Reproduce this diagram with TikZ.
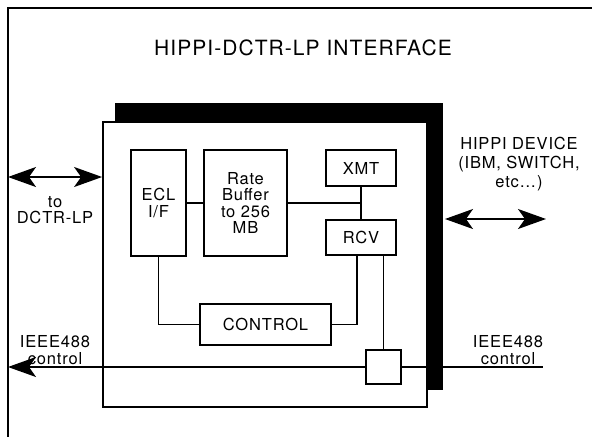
\documentclass[tikz,border=0pt]{standalone}
\usepackage{fontspec}
\setmainfont[LetterSpace=5]{TeX Gyre Heros}
\usetikzlibrary{arrows.meta}
\newcommand{\etich}{\fontsize{16.5}{16.5}\selectfont}

\begin{document}
\begin{tikzpicture}[x=1pt, y=-1pt, >={Stealth[length=28pt, width=20pt, inset=7pt]},
        blocco/.style={draw, line width=1.8pt, fill=white, align=center, inner sep=0pt, font=\etich},
        filo/.style={line width=1.5pt}]
        \useasboundingbox (0,0) rectangle (592,437);

        % Cornice esterna
        \draw[filo] (592,8) -- (8,8) -- (8,437);

        % Titolo
        \node[font=\fontsize{21}{24}\selectfont] (titolo) at (303,48) {HIPPI-DCTR-LP INTERFACE};

        % Ombra della scheda
        \fill (115,103) rectangle (443,390);

        % Scheda
        \node[blocco, minimum width=324pt, minimum height=285pt] (scheda) at (265,264.5) {};

        % Blocchi interni
        \node[blocco, minimum width=55pt, minimum height=106pt] (ecl) at (158.5,203) {ECL\\I/F};
        \node[blocco, minimum width=83pt, minimum height=106pt] (rate) at (245.5,203) {Rate\\Buffer\\to 256\\MB};
        \node[blocco, minimum width=70pt, minimum height=36pt] (xmt) at (361,168) {XMT};
        \node[blocco, minimum width=70pt, minimum height=35pt] (rcv) at (361,237.5) {RCV};
        \node[blocco, minimum width=131pt, minimum height=41pt] (ctrl) at (265.5,324.5) {CONTROL};
        \node[blocco, minimum width=35pt, minimum height=34pt] (porta) at (383.5,367) {};

        % Collegamenti interni
        \coordinate (nodo) at (xmt.south |- rate.east);
        \draw[filo] (ecl) -- (rate);
        \draw[filo] (rate.east) -- (nodo);
        \draw[filo] (xmt) -- (rcv);
        \draw[filo] (ecl.south) |- (ctrl.west);
        \draw[filo] ([xshift=-4pt]rcv.south) |- (ctrl.east);
        \draw[filo] (porta.north) -- (porta.north |- rcv.south);

        % Linea IEEE488
        \coordinate (ieeeSx) at (8,367);
        \coordinate (ieeeDx) at (543,367);
        \draw[filo, ->] (porta.west) -- (ieeeSx);
        \draw[filo] (porta.east) -- (ieeeDx);

        % Frecce verso DCTR-LP e HIPPI
        \coordinate (dctrA) at (8,177);
        \draw[filo, <->] (dctrA) -- (dctrA -| scheda.west);
        \coordinate (hippiA) at (445,219);
        \coordinate (hippiB) at (546,219);
        \draw[filo, <->] (hippiA) -- (hippiB);

        % Etichette esterne
        \node[align=center, font=\etich] (dctr) at (55,210) {to\\DCTR-LP};
        \node[align=center, font=\fontsize{16.5}{19}\selectfont] (hippi) at (519,164) {HIPPI DEVICE\\(IBM, SWITCH,\\etc\dots)};
        \node[align=center, font=\etich] (ieeeL) at (55,350) {IEEE488\\control};
        \node[align=center, font=\etich] (ieeeR) at (508,350) {IEEE488\\control};

    \end{tikzpicture}
\end{document}
